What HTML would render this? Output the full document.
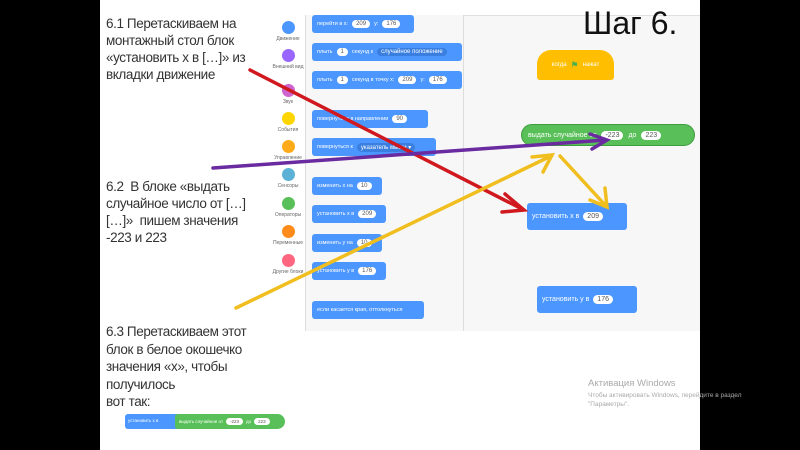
<!DOCTYPE html>
<html><head><meta charset="utf-8"><style>
*{margin:0;padding:0;box-sizing:border-box}
body{width:800px;height:450px;background:#000;position:relative;overflow:hidden;font-family:"Liberation Sans","Noto Sans CJK SC",sans-serif}
.page{position:absolute;left:100px;top:0;width:600px;height:450px;background:#fff}
.t{position:absolute;font-size:13.5px;line-height:17px;color:#333;letter-spacing:-0.4px}
.scr{position:absolute;left:270px;top:15px;width:430px;height:316px;background:#f7f7f7;border-top:1px solid #e0e0e0}
.cat{position:absolute;left:270px;top:15px;width:36px;height:316px;background:#fff;border-right:1px solid #ddd}
.pal{position:absolute;left:306px;top:15px;width:158px;height:316px;background:#f7f7f7;border-right:1px solid #ddd}
.dot{position:absolute;width:13px;height:13px;border-radius:50%}
.cl{position:absolute;font-size:5px;color:#666;text-align:center;width:36px;left:270px}
.b{position:absolute;background:#4c97ff;color:#fff;font-size:5.5px;border-radius:3px;height:18px;display:flex;align-items:center;padding-left:5px;gap:4px;white-space:nowrap;overflow:hidden}
.o{background:#fff;color:#555;border-radius:8px;padding:1px 4px;font-size:6px}
.g{position:absolute;background:#59c059;color:#fff;border-radius:12px;display:flex;align-items:center;white-space:nowrap}
</style></head><body>
<div class="page"></div>
<div class="t" style="left:106px;top:15px;width:160px">6.1 Перетаскиваем на монтажный стол блок «установить х в […]» из вкладки движение</div>
<div class="t" style="left:106px;top:178px;width:160px">6.2&nbsp; В блоке «выдать случайное число от […] […]»&nbsp; пишем значения -223 и 223</div>
<div class="t" style="left:106px;top:323px;width:160px;line-height:17.5px">6.3 Перетаскиваем этот блок в белое окошечко значения «х», чтобы получилось<br>вот так:</div>
<div style="position:absolute;left:125px;top:414px;width:60px;height:15px;background:#4c97ff;border-radius:3px"></div>
<div class="g" style="left:175px;top:414px;width:110px;height:15px;font-size:4.5px;padding-left:4px;gap:3px;border-radius:3px 8px 8px 3px;background:#59c059">выдать случайное от <span class="o" style="font-size:4.5px">-223</span> до <span class="o" style="font-size:4.5px">223</span></div>
<div style="position:absolute;left:128px;top:418px;font-size:4.5px;color:#fff">установить х в</div>
<div class="scr"></div>
<div class="cat"></div>
<div class="pal"></div>
<div class="dot" style="left:282px;top:21px;background:#4c97ff"></div><div class="cl" style="top:36px">Движение</div>
<div class="dot" style="left:282px;top:49px;background:#9966ff"></div><div class="cl" style="top:64px">Внешний вид</div>
<div class="dot" style="left:282px;top:84px;background:#cf63cf"></div><div class="cl" style="top:99px">Звук</div>
<div class="dot" style="left:282px;top:112px;background:#ffd500"></div><div class="cl" style="top:127px">События</div>
<div class="dot" style="left:282px;top:140px;background:#ffab19"></div><div class="cl" style="top:155px">Управление</div>
<div class="dot" style="left:282px;top:168px;background:#5cb1d6"></div><div class="cl" style="top:183px">Сенсоры</div>
<div class="dot" style="left:282px;top:197px;background:#59c059"></div><div class="cl" style="top:212px">Операторы</div>
<div class="dot" style="left:282px;top:225px;background:#ff8c1a"></div><div class="cl" style="top:240px">Переменные</div>
<div class="dot" style="left:282px;top:254px;background:#ff6680"></div><div class="cl" style="top:269px">Другие блоки</div>
<div class="b" style="left:312px;top:15px;width:102px">перейти в х: <span class="o">209</span> у: <span class="o">176</span></div>
<div class="b" style="left:312px;top:43px;width:150px">плыть <span class="o">1</span> секунд к <span class="o" style="background:#3a7fe0;color:#fff">случайное положение</span></div>
<div class="b" style="left:312px;top:71px;width:150px">плыть <span class="o">1</span> секунд в точку х: <span class="o">209</span> у: <span class="o">176</span></div>
<div class="b" style="left:312px;top:110px;width:116px">повернуться в направлении <span class="o">90</span></div>
<div class="b" style="left:312px;top:138px;width:124px">повернуться к <span class="o" style="background:#3a7fe0;color:#fff">указатель мыши ▾</span></div>
<div class="b" style="left:312px;top:177px;width:70px">изменить х на <span class="o">10</span></div>
<div class="b" style="left:312px;top:205px;width:74px">установить х в <span class="o">209</span></div>
<div class="b" style="left:312px;top:234px;width:70px">изменить у на <span class="o">10</span></div>
<div class="b" style="left:312px;top:262px;width:74px">установить у в <span class="o">176</span></div>
<div class="b" style="left:312px;top:301px;width:112px">если касается края, оттолкнуться</div>
<div style="position:absolute;left:537px;top:50px;width:77px;height:30px;background:#ffbf00;border-radius:14px 14px 3px 3px;color:#fff;font-size:6px;display:flex;align-items:center;justify-content:center;gap:4px">когда <span style="color:#4caf50;font-size:9px">⚑</span> нажат</div>
<div class="g" style="left:521px;top:124px;width:174px;height:22px;font-size:7px;padding-left:6px;gap:5px;border:1px solid #3e9b3e">выдать случайное от <span class="o" style="font-size:7px">-223</span> до <span class="o" style="font-size:7px">223</span></div>
<div class="b" style="left:527px;top:203px;width:100px;height:27px;font-size:7px">установить х в <span class="o" style="font-size:7px">209</span></div>
<div class="b" style="left:537px;top:286px;width:100px;height:27px;font-size:7px">установить у в <span class="o" style="font-size:7px">176</span></div>
<div style="position:absolute;left:583px;top:5px;font-size:32px;color:#111">Шаг 6.</div>
<div style="position:absolute;left:588px;top:378px;font-size:9.5px;color:#aaa">Активация Windows</div>
<div style="position:absolute;left:588px;top:391px;font-size:6.5px;color:#aaa;line-height:9px">Чтобы активировать Windows, перейдите в раздел<br>"Параметры".</div>
<svg style="position:absolute;left:0;top:0" width="800" height="450">
<g stroke-width="3.5" fill="none" stroke-linecap="round">
<line x1="250" y1="70" x2="522" y2="209" stroke="#d0181f"/>
<polyline points="505,194 524,210 502,212" stroke="#d0181f"/>
<line x1="213" y1="168" x2="606" y2="140" stroke="#6a2aa0"/>
<polyline points="590,134 607,140 592,149" stroke="#6a2aa0"/>
<line x1="236" y1="308" x2="551" y2="156" stroke="#f0be1e"/>
<polyline points="532,157 552,155 543,172" stroke="#f0be1e"/>
<line x1="560" y1="156" x2="606" y2="206" stroke="#f0be1e"/>
<polyline points="605,188 607,207 590,200" stroke="#f0be1e"/>
</g></svg>
</body></html>
